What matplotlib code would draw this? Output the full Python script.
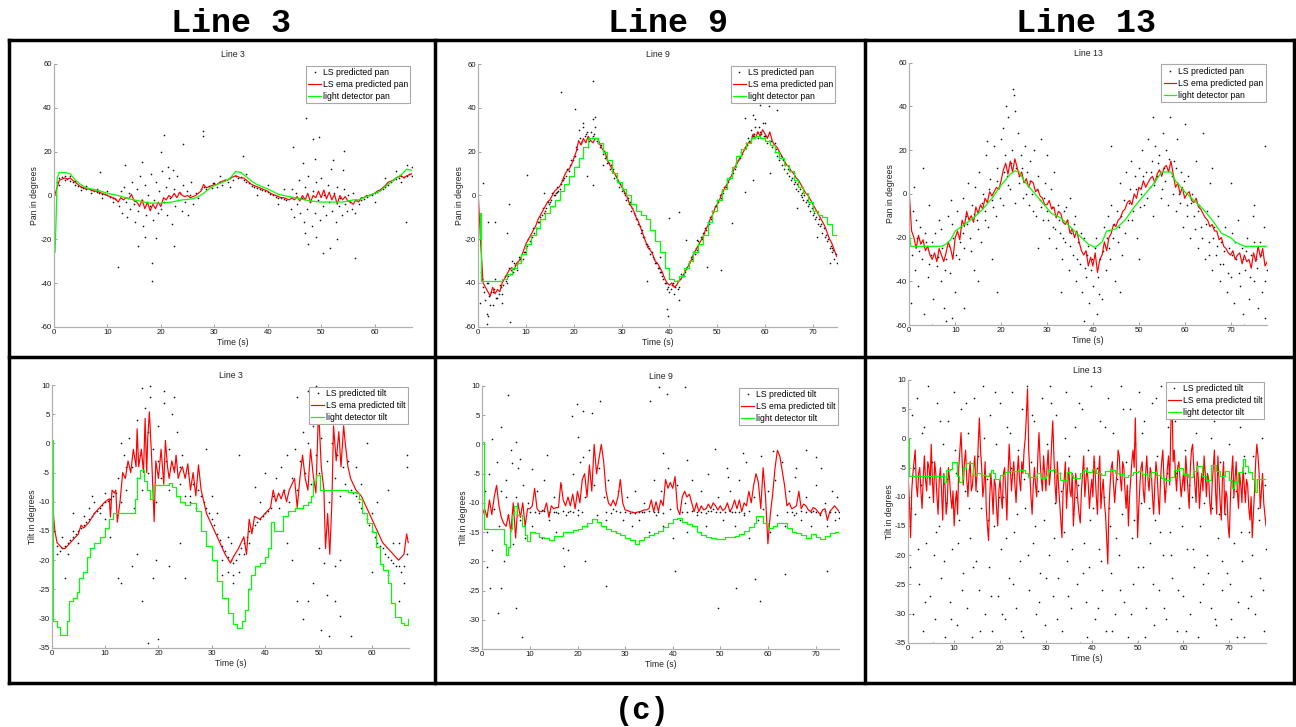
import numpy as np
import matplotlib
matplotlib.use('Agg')
import matplotlib.pyplot as plt
from matplotlib.lines import Line2D

plt.rcParams['font.family'] = ['Liberation Sans', 'DejaVu Sans']
plt.rcParams['axes.unicode_minus'] = False

# ---------------- Line 3 : pan ----------------
# red ema line, one sample every 0.5 s from t = 0
p1_red = [-1, 3, 7, 7.5, 8, 7.5, 8, 7, 6, 5, 4, 3.5, 3, 3, 2.5, 2, 2, 1.5, 1, 0.5,
          0, -0.5, -1, -1.5, -3, -1, -2, -1, -1.5, 0.5, -2.5, -3, -5, -2, -6, -3, -7, -4, -6, -3,
          -5, -1, -2, 0, -1, 1, -1, 1.5, 0, -0.5, 0, -1, -0.5, 0, 1, 2, 5, 3.5, 4, 4.5,
          5, 5, 6, 6.5, 7, 7, 8, 8.5, 9, 8.5, 8, 8, 7, 6, 5, 4.5, 4, 3.5, 3, 2.5,
          2, 1, 0.5, 0, -0.5, -1, -1, -1.5, -2, -1, -2, -0.5, -2.5, 0, -2, 1, -3, 0, -1, 2,
          -1, 2.5, -1.5, 1.5, -2, 0.5, -4, 0, -2, -0.5, -2.5, -3, -4, -2, -3, -1, -1, 0, 0, 0.5,
          1, 2, 2.5, 3.5, 4.5, 6, 6.5, 7, 8, 8.5, 9, 8, 9, 9.5, 10]
p1_grn = [(0, -20), (0.2, -26), (0.4, -10), (0.6, 8), (1, 10.5), (2, 10.5), (3, 10), (4, 7), (5, 5), (6, 3.5),
          (8, 2.5), (10, 1), (12, 0), (14, -1.5), (16, -2.5), (18, -3.5), (20, -3.5), (22, -3), (24, -2), (26, -1.5),
          (27, -0.5), (28, 1), (29, 3), (30, 4.5), (31, 5.5), (32, 6.5), (33, 8), (34, 11), (35, 10.5), (36, 8.5),
          (37, 6.5), (38, 5), (40, 3), (42, 0.5), (44, -0.5), (46, -1.5), (48, -2.5), (50, -3), (52, -3), (54, -3),
          (55, -2.5), (56, -2), (57, -2), (58, -1), (59, 0), (60, 1), (61, 2), (62, 4), (63, 6), (64, 8),
          (65, 9.5), (66, 12), (67, 11.5)]
p1_pts = [(0.5, 6), (1, 8), (1.5, 8.5), (2, 7), (2.5, 7.5), (3, 6.5), (3.5, 6), (4, 5), (4.5, 4.5), (5, 4),
          (5.5, 3.5), (6, 3), (7, 2.5), (7.5, 2), (8, 1.5), (8.5, 1), (9, 0.5), (9.5, 0.5), (10, 0), (10.5, -0.5),
          (11, -1), (11.5, -1.5), (1, 5), (2, 9), (3, 9), (4, 6.5), (5, 2.5), (6, 4.5), (7, 1), (8, 3),
          (9, -1), (10, 2), (11, -3),
          (12.2, -5), (12.5, 2), (12.8, -8), (13.1, 4), (13.4, -3), (13.7, -10), (14.0, 1), (14.3, -6), (14.6, 6), (14.9, -4),
          (15.2, -12), (15.5, 3), (15.8, -7), (16.1, 9), (16.4, -2), (16.7, -14), (17.0, 5), (17.3, -9), (17.6, 0), (17.9, -5),
          (18.2, 10), (18.5, -11), (18.8, -2), (19.1, 6), (19.4, -8), (19.7, 2), (20.0, -6), (20.3, 11), (20.6, -3), (20.9, 4),
          (21.2, -9), (21.5, 8), (21.8, -1), (22.1, -13), (22.4, 3), (22.7, -5), (23.0, 9), (23.3, -2), (23.6, 1), (23.9, -7),
          (24.2, 5), (24.5, -3), (24.8, 2), (25.1, -9), (25.4, 0), (25.7, 6), (26.0, -4), (26.5, 1), (27.0, -1), (27.5, 3),
          (12.0, -32.8), (18.3, -39.2), (18.3, -31), (20.6, 27.6), (27.8, 29.5), (27.9, 27.2), (24.2, 23.4), (20.1, 20),
          (15.8, -23.2), (22.4, -23), (17.1, -19), (19.0, -19.2), (8.6, 10.5), (13.3, 14), (16.5, 15.2), (21.4, 13.2),
          (22.3, 11.7), (29.8, 5.6), (35.4, 17.8),
          (28, 4), (28.5, 3), (29, 4.5), (29.5, 3.5), (30, 5.5), (30.5, 4), (31, 6), (31.5, 5), (32, 7), (32.5, 6),
          (33, 8), (33.5, 7), (34, 9), (34.5, 8), (35, 8.5), (35.5, 7), (36, 6), (36.5, 5.5), (37, 4.5), (37.5, 4),
          (38, 3.5), (38.5, 3), (39, 2.5), (39.5, 2), (40, 1.5), (40.5, 0.5), (41, 0), (41.5, -0.5), (42, -1), (42.5, -1),
          (43, -1.5), (43.5, -2), (31, 9), (33, 4), (36, 10), (38, 0), (40, 5), (42, -4), (43, 3),
          (44.3, -6), (44.6, 3), (44.9, -10), (45.2, 1), (45.5, -4), (45.8, 7), (46.1, -8), (46.4, -1), (46.7, -12), (47.0, 4),
          (47.3, -6), (47.6, 9), (47.9, -3), (48.2, -14), (48.5, 2), (48.8, -8), (49.1, 6), (49.4, -2), (49.7, -11), (50.0, 8),
          (50.3, -5), (50.6, 0), (50.9, -9), (51.2, 5), (51.5, -3), (51.8, 12), (52.1, -7), (52.4, 1), (52.7, -12), (53.0, 4),
          (53.3, -5), (53.6, -1), (53.9, -9), (54.2, 3), (54.5, -4), (54.8, -7), (55.1, 0), (55.4, -3), (55.7, -6), (56, 1),
          (56.5, -2), (57, -4), (47.2, 35.2), (49.6, 26.6), (48.8, 16.6), (56.3, -28.6), (50.3, -26.3), (51.6, -24),
          (54.3, 20.5), (48.5, 25.7), (52.2, 16.2), (44.7, 22.3), (46.6, 14.7), (54.1, 11.7), (46.9, -17.2), (49.1, -19),
          (56.3, -8), (65.9, -12.3), (47.5, -22), (53, -20),
          (57.5, -2), (58, -1.5), (58.5, -0.5), (59, 0), (59.5, 0), (60, 1), (60.5, 1.5), (61, 2.5), (61.5, 3), (62, 4),
          (62.5, 5), (63, 6), (63.5, 7), (64, 7.5), (64.5, 8), (65, 9), (65.5, 8.5), (66, 9), (66.5, 10), (67, 9),
          (60, -3), (62, 8), (64, 11), (65, 6), (66, 14), (67, 13)]

# ---------------- Line 9 : pan ----------------
p2_red = [0, -22, -40, -42, -44, -46, -42, -45, -43, -44, -40, -38, -36, -34, -33, -34, -31, -30, -28, -25,
          -22, -20, -18, -16, -14, -11, -9, -7, -5, -3, -2, 0, 2, 3, 4, 6, 9, 11, 12, 14,
          17, 20, 25, 23, 26, 24, 27, 25, 24, 26, 26, 23, 21, 20, 16, 14, 12, 10, 8, 6,
          4, 2, 0, -3, -5, -7, -10, -12, -15, -18, -21, -24, -25, -27, -30, -31, -33, -35, -38, -40,
          -41, -40, -42, -41, -39, -38, -36, -34, -32, -30, -27, -25, -23, -21, -19, -16, -14, -11, -9, -6,
          -4, -2, 1, 3, 5, 7, 9, 12, 14, 16, 18, 20, 22, 24, 24, 28, 26, 29, 27, 30,
          28, 26, 29, 25, 23, 22, 20, 18, 16, 14, 13, 11, 10, 8, 7, 5, 3, 1, 0, -2,
          -4, -6, -8, -10, -12, -14, -17, -20, -22, -25, -28]
p2_grn = [(0, -20), (0.3, -8), (0.5, -39), (1, -39), (2, -39), (3, -39), (4, -39), (5, -38), (6, -36), (7, -33),
          (8, -31), (9, -27), (10, -22), (11, -18), (12, -15), (13, -11), (14, -8), (15, -5), (16, -2), (17, 2),
          (18, 5), (19, 9), (20, 13), (21, 17), (22, 22), (23, 26), (24, 26), (25, 24), (26, 20), (27, 16),
          (28, 10), (29, 6), (30, 3), (31, 0), (32, -4), (33, -7), (34, -9), (35, -11), (36, -16), (37, -21),
          (38, -26), (39, -33), (40, -38), (41, -39), (42, -37), (43, -33), (44, -30), (45, -26), (46, -22), (47, -18),
          (48, -12), (49, -7), (50, -2), (51, 3), (52, 8), (53, 13), (54, 18), (55, 21), (56, 24), (57, 26),
          (58, 27), (59, 26), (60, 25), (61, 23), (62, 20), (63, 17), (64, 14), (65, 11), (66, 7), (67, 4),
          (68, 1), (69, -3), (70, -7), (71, -9), (72, -10), (73, -13), (74, -18), (75, -22)]
p2_pts = [(0.3, -20), (0.5, -35), (1, -42), (1.5, -48), (2, -40), (2.5, -50), (3, -44), (3.5, -38), (4, -47), (4.5, -41),
          (5, -45), (5.5, -37), (6, -40), (6.5, -33), (7, -36), (7.5, -31), (8, -34), (8.5, -28), (9, -30), (9.5, -26),
          (10, -24), (10.5, -20), (11, -19), (11.5, -15), (12, -15), (12.5, -12), (13, -10), (13.5, -6), (14, -7), (14.5, -3),
          (15, -3), (15.5, 1), (16, 0), (16.5, 4), (17, 3), (17.5, 7), (18, 8), (18.5, 12), (19, 11), (19.5, 16),
          (20, 18), (20.5, 22), (21, 30), (21.5, 24), (22, 31), (22.5, 28), (23, 22), (23.5, 29), (24, 27), (24.5, 31),
          (25, 24), (25.5, 22), (26, 19), (26.5, 17), (27, 15), (27.5, 12), (28, 11), (28.5, 8), (29, 7), (29.5, 4),
          (30, 2), (30.5, 1), (31, -2), (31.5, -4), (32, -7), (32.5, -8), (33, -11), (33.5, -13), (34, -17), (34.5, -19),
          (35, -22), (35.5, -23), (36, -27), (36.5, -28), (37, -31), (37.5, -33), (38, -35), (38.5, -37), (39, -40), (39.5, -43),
          (40, -44), (40.5, -41), (41, -45), (41.5, -39), (42, -42), (42.5, -36), (43, -37), (43.5, -33), (44, -31), (44.5, -28),
          (45, -26), (45.5, -24), (46, -21), (46.5, -19), (47, -17), (47.5, -15), (48, -12), (48.5, -10), (49, -7), (49.5, -5),
          (50, -2), (50.5, 0), (51, 2), (51.5, 4), (52, 7), (52.5, 8), (53, 11), (53.5, 13), (54, 15), (54.5, 18),
          (55, 20), (55.5, 21), (56, 24), (56.5, 26), (57, 30), (57.5, 27), (58, 31), (58.5, 26), (59, 29), (59.5, 33),
          (60, 27), (60.5, 24), (61, 25), (61.5, 22), (62, 20), (62.5, 18), (63, 16), (63.5, 14), (64, 12), (64.5, 10),
          (65, 9), (65.5, 7), (66, 5), (66.5, 3), (67, 2), (67.5, 0), (68, -2), (68.5, -3), (69, -5), (69.5, -7),
          (70, -9), (70.5, -11), (71, -13), (71.5, -14), (72, -17), (72.5, -19), (73, -21), (73.5, -24), (74, -26), (74.5, -29),
          (75, -31), (2, -55), (3, -50), (5, -49), (7, -30), (22, 33), (24, 35), (26, 14), (38, -28), (42, -48),
          (58, 35), (60, 33), (62, 24), (66, 10), (70, -5), (74, -24),
          (24.1, 52.2), (17.3, 47), (1.0, 5.8), (2.1, -12), (3.4, -12), (6.4, -4), (6.1, -17), (10.1, 9.2), (6.6, -36),
          (6.6, -58), (1.8, -58.8), (0.3, -49.4), (1.8, -54), (39.5, -52), (39.8, -55), (40, -10.5), (41.9, -7.8),
          (43.5, -20.4), (53, -12.5), (55.9, 1.4), (57.4, 7), (59, 41.3), (60.8, 40.8), (62.5, 39), (57.4, 36.7),
          (55.8, 35.2), (20.2, 39.4), (24.5, 36), (24.1, 4.7), (22.7, 9), (16.4, 1.7), (13.8, 1.2), (61.1, 10),
          (66.7, -5.9), (70.9, -18.9), (67.8, -0.6), (35.4, -39), (50.7, -34), (45.8, -20.4), (47.8, -32.6), (73.7, -31)]
# extra predicted-pan dots hugging the track, at t = k + 0.25 and t = k + 0.75
p2_trk_a = [-10, -44, -46, -43, -45, -41, -37, -35, -31, -29, -23, -19, -15, -9, -6, -2, 1, 5, 9, 14,
            18, 26, 27, 25, 28, 24, 20, 15, 12, 6, 3, -1, -6, -11, -16, -22, -26, -31, -35, -40,
            -43, -42, -38, -35, -30, -27, -22, -17, -13, -7, -3, 1, 6, 10, 16, 19, 23, 27, 29, 28,
            27, 25, 21, 18, 14, 11, 6, 3, 0, -4, -8, -11, -15, -20, -25]
p2_trk_b = [-38, -40, -44, -47, -42, -39, -34, -32, -29, -26, -21, -17, -12, -8, -4, 0, 2, 7, 12, 16,
            21, 25, 29, 26, 25, 23, 18, 14, 9, 5, 0, -3, -9, -14, -19, -24, -29, -33, -38, -42,
            -40, -43, -37, -33, -29, -25, -20, -16, -11, -5, -1, 4, 8, 12, 17, 22, 25, 28, 31, 27,
            25, 23, 20, 16, 12, 8, 5, 1, -2, -6, -10, -13, -18, -23, -27]

# ---------------- Line 13 : pan ----------------
p3_red = [0, -17, -20, -25, -19, -23, -21, -26, -24, -28, -30, -27, -31, -25, -28, -31, -27, -22, -25, -30,
          -20, -17, -21, -12, -15, -8, -12, -10, -13, -6, -9, -5, -7, -2, -4, 1, -1, 1, 3, 2,
          6, 11, 14, 9, 15, 10, 16, 12, 8, 10, 5, 7, 3, 6, 5, 1, 2, -1, -2, -5,
          -5, -3, -7, -6, -11, -8, -9, -13, -14, -12, -18, -16, -20, -17, -22, -26, -28, -26, -33, -29,
          -33, -27, -36, -30, -28, -22, -26, -20, -18, -14, -15, -12, -11, -8, -7, -4, -3, -5, 0, -2,
          3, 2, 6, 3, 5, 7, 8, 5, 9, 11, 8, 12, 13, 10, 15, 9, 3, 5, 0, 3,
          -2, 0, 1, -3, -4, -2, -6, -7, -9, -11, -12, -15, -14, -17, -17, -21, -20, -24, -25, -27,
          -28, -26, -30, -28, -27, -32, -28, -31, -30, -34, -27, -31, -24, -29, -25, -33, -31]
p3_grn = [(0, -17), (0.3, -24), (1, -24), (3, -24), (5, -24), (7, -24), (8, -23), (9, -21), (10, -17), (12, -14),
          (14, -11), (16, -7), (18, -2), (20, 4), (22, 9), (23, 10.5), (24, 10), (25, 6), (27, 1), (29, -4),
          (31, -9), (33, -11), (35, -15), (37, -19), (39, -23), (40.5, -24.5), (42, -22), (43, -17), (45, -16), (47, -12),
          (49, -6), (51, -1), (53, 4), (55, 10), (57, 10), (58, 6), (60, 1), (62, -3), (64, -7), (66, -12),
          (68, -18), (70, -20), (71, -22), (73, -24), (75, -24), (78, -24)]
p3_pts = [(0.3, -50), (0.8, -8), (1.2, -35), (1.6, -20), (2, -42), (2.4, -15), (2.8, -30), (3.2, -55), (3.6, -22), (4, -38),
          (4.4, -5), (4.8, -28), (5.2, -48), (5.6, -18), (6, -33), (6.4, -12), (6.8, -40), (7.2, -25), (7.6, -52), (8, -30),
          (8.4, -10), (8.8, -36), (9.2, -57), (9.6, -20), (10, -45), (1, 3), (3, 12), (5, -60), (8, -58), (9, -3),
          (10.4, -8), (10.8, -30), (11.2, -15), (11.6, -2), (12, -25), (12.4, -10), (12.8, 5), (13.2, -20), (13.6, -5), (14, -35),
          (14.4, 3), (14.8, -12), (15.2, 10), (15.6, -22), (16, 0), (16.4, -8), (16.8, 18), (17.2, -15), (17.6, 7), (18, -3),
          (18.4, 22), (18.8, -10), (19.2, 12), (19.6, 3), (20, 25), (20.4, -5), (20.8, 18), (21.2, 8), (21.6, 35), (22, 2),
          (22.4, 20), (22.8, 45), (23.2, 12), (23.6, 28), (24, 5), (24.4, 18), (24.8, -2), (25.2, 22), (21, 40), (20.5, 30),
          (22.5, 48), (23, 38), (12, -52), (15, -40), (18, -30), (19, -45), (17, 24),
          (25.6, 10), (26, -5), (26.4, 15), (26.8, 0), (27.2, 20), (27.6, -10), (28, 8), (28.4, -3), (28.8, 25), (29.2, -12),
          (29.6, 5), (30, -8), (30.4, -20), (30.8, 2), (31.2, -15), (31.6, 10), (32, -25), (32.4, -5), (32.8, -18), (33.2, -30),
          (33.6, -8), (34, -22), (34.4, -12), (34.8, -35), (35.2, -18), (35.6, -28), (36, -10), (36.4, -40), (36.8, -22), (37.2, -32),
          (37.6, -45), (38, -20), (38.4, -38), (38.8, -28), (39.2, -50), (39.6, -35), (40, -42), (40.4, -25), (40.8, -55), (41.2, -38),
          (41.6, -30), (42, -48), (30, 18), (35, -2), (38, -58), (33, -45), (28, -25),
          (42.4, -15), (42.8, -35), (43.2, -10), (43.6, -25), (44, -5), (44.4, -20), (44.8, -40), (45.2, -8), (45.6, -15), (46, 5),
          (46.4, -28), (46.8, -3), (47.2, 10), (47.6, -12), (48, 2), (48.4, 15), (48.8, -8), (49.2, 8), (49.6, -20), (50, 12),
          (50.4, 0), (50.8, 20), (51.2, -5), (51.6, 10), (52, 25), (52.4, 3), (52.8, 15), (53.2, -10), (53.6, 22), (54, 8),
          (54.4, 18), (54.8, -2), (55.2, 28), (55.6, 12), (56, 20), (56.4, -5), (56.8, 35), (57.2, 8), (57.6, 15), (58, -8),
          (58.4, 25), (58.8, 0), (59.2, 10), (59.6, -15), (60, 32), (46, -45), (50, -30), (53, 35), (44, 22),
          (60.4, -5), (60.8, 8), (61.2, -20), (61.6, 0), (62, -10), (62.4, 15), (62.8, -25), (63.2, -5), (63.6, -15), (64, 28),
          (64.4, -30), (64.8, -8), (65.2, -22), (65.6, 5), (66, -35), (66.4, -15), (66.8, -28), (67.2, -10), (67.6, -40), (68, -22),
          (68.4, -32), (68.8, -15), (69.2, -45), (69.6, -25), (70, -38), (70.4, -18), (70.8, -50), (71.2, -30), (71.6, -12), (72, -42),
          (72.4, -25), (72.8, -55), (73.2, -35), (73.6, -20), (74, -48), (74.4, -28), (74.8, -10), (75.2, -40), (75.6, -30), (76, -52),
          (76.4, -22), (76.8, -45), (77.2, -15), (77.6, -57), (78, -35), (77.5, 22), (75, -5), (70, 5), (66, 12), (73, -60),
          (0.5, -28), (1.4, -12), (2.2, -26), (3.4, -18), (4.2, -32), (5, -22), (6.2, -29), (7, -16), (7.8, -35), (8.6, -24),
          (9.4, -14), (10.2, -28), (11, -22), (11.8, -18), (12.6, -14), (13.4, -26), (14.2, -9), (15, -16), (15.8, -4), (16.6, -12),
          (17.4, 2), (18.2, -6), (19, 6), (19.8, -2), (20.6, 10), (21.4, 4), (22.2, 14), (23, -4), (23.8, 8), (24.6, 12),
          (25.4, 0), (26.2, 6), (27, -8), (27.8, 2), (28.6, -6), (29.4, -2), (30.2, -12), (31, -6), (31.8, -16), (32.6, -12),
          (33.4, -20), (34.2, -6), (35, -24), (35.8, -14), (36.6, -30), (37.4, -18), (38.2, -34), (39, -24), (39.8, -30), (40.6, -20),
          (41.4, -46), (42.2, -26), (43, -20), (43.8, -30), (44.6, -14), (45.4, -22), (46.2, -10), (47, -18), (47.8, -4), (48.6, -12),
          (49.4, 2), (50.2, -6), (51, 8), (51.8, -2), (52.6, 10), (53.4, 4), (54.2, 14), (55, 2), (55.8, 6), (56.6, 16),
          (57.4, 0), (58.2, 12), (59, -4), (59.8, 6), (60.6, -10), (61.4, -4), (62.2, -16), (63, -8), (63.8, -20), (64.6, -14),
          (65.4, -28), (66.2, -20), (67, -24), (67.8, -32), (68.6, -26), (69.4, -36), (70.2, -28), (71, -22), (71.8, -36), (72.6, -30),
          (73.4, -26), (74.2, -38), (75, -22), (75.8, -34), (76.6, -28), (77.4, -40)]

# ---------------- Line 3 : tilt ----------------
p4_red = [(0.3, -12), (0.6, -15), (1, -17), (1.5, -17.5), (2, -18), (2.5, -18), (3, -17.5), (4, -16.5), (5, -15.5), (5.5, -14),
          (6, -14.5), (7, -13.5), (8, -12), (8.5, -11.5), (9, -11), (10, -10), (10.8, -9.5), (11, -12.6), (11.3, -8), (11.7, -8.5),
          (12, -8), (12.3, -13.5), (12.8, -10), (13.3, -5), (13.8, -6), (14.3, -3), (14.8, -5), (15.3, -1), (15.8, -4), (16, 2.5),
          (16.3, -4), (16.8, -1), (17.2, -5), (17.5, 4.3), (17.8, -5), (18, 1), (18.3, 5.4), (18.7, -2), (19.2, -13.4), (19.5, -3),
          (20, -6), (20.5, -1), (21, -7), (21.3, 0.5), (21.7, -4), (22, -6), (22.5, -3), (23, -5), (23.3, -2), (23.7, -6),
          (24, -5), (24.5, -4), (25, -6), (25.5, -3.5), (26, -8), (26.5, -5), (27, -9), (27.5, -3.7), (28, -8), (28.5, -10),
          (29, -12), (29.5, -13), (30.5, -15), (31.5, -17), (32.5, -19), (33.5, -20.5), (34, -19.5), (35, -18), (36, -16), (36.5, -19),
          (37, -13), (37.5, -15.5), (38, -12.5), (39, -13), (40, -12), (41, -11), (41.5, -8), (42, -10), (42.5, -8.5), (43, -9.5),
          (43.5, -8), (44, -10), (44.5, -8), (45, -7), (45.5, -6), (46, -11), (46.5, -6), (47, -2), (47.5, -6), (48, -8),
          (48.5, -1), (49, -5.5), (49.5, -8.5), (50, 6), (50.5, -4), (51, -8), (51.3, -18), (51.7, -12), (52.1, -19), (52.5, -10),
          (52.8, 3), (53.3, -3), (53.8, 2), (54.2, -4), (54.7, 3), (55, 0), (55.5, -4), (56, -6), (57, -8), (57.5, -8.5),
          (58, -9), (59, -11), (60, -13), (61, -15), (62, -17), (63, -18), (64, -19), (65, -20), (65.5, -19.5), (66, -19),
          (66.5, -15.5), (66.8, -17)]
p4_grn = [(0, 0.5), (0.3, -30.5), (1, -31.5), (1.5, -32.8), (2.8, -30.5), (3.3, -27), (4, -26.5), (4.7, -25.5), (5.2, -23), (5.8, -22),
          (6.6, -19.5), (7.2, -18), (8, -17), (9, -16), (10, -14.5), (10.8, -13), (11.5, -12), (15.6, -9.5), (16, -6), (16.5, -4.5),
          (17.2, -6.5), (17.8, -8), (18.4, -9.5), (19, -7.2), (22, -6.8), (22.6, -7.5), (23.2, -9), (24, -10), (25, -10.5), (26, -10.2),
          (27, -11.5), (28, -15), (29, -17.5), (30, -20), (31, -23.5), (32, -26.5), (33, -29), (34, -31), (34.8, -31.7), (35.6, -30.5),
          (36.2, -28.5), (36.8, -25), (37.4, -22.5), (38, -21), (39, -20.5), (40, -19.5), (40.5, -18), (41, -13.5), (41.6, -15), (42.2, -15),
          (42.6, -15), (43.4, -12.5), (44.2, -11.5), (45.6, -11), (47, -10.5), (48, -10), (48.5, -9), (49, -6.5), (49.6, -5.5), (50.2, -8),
          (55, -8), (55.6, -8.3), (57, -8.5), (57.6, -9.5), (58.2, -12), (59, -13.7), (60, -15.1), (60.8, -17.7), (61.5, -20.6), (62.1, -21.7),
          (63, -24), (63.6, -27.4), (64.3, -29.7), (65.5, -30.8), (66, -31.1), (66.7, -30)]
p4_pts = [(0.5, -15), (1, -17.5), (1.5, -18.5), (2, -18), (2.5, -17.5), (3, -17), (3.5, -16.5), (4, -16), (4.5, -15.5), (5, -15),
          (5.5, -14.5), (6, -14), (6.5, -13.5), (7, -13), (7.5, -12.5), (8, -12), (8.5, -11.5), (9, -11), (9.5, -10.5), (10, -10),
          (10.5, -9.8), (11, -9.5), (11.5, -9), (12, -8.5), (1, -19), (2, -16), (3, -19), (4, -15), (5, -17), (6, -12.5),
          (7, -11), (8, -10), (9, -12), (10, -8.5), (11, -11), (2.5, -23), (4, -12), (7.5, -9),
          (12.5, -6), (13, -10), (13.5, -2), (14, -8), (14.5, 1), (15, -4), (15.5, -11), (16, 4), (16.5, -2), (17, -8),
          (17.5, 6), (18, -5), (18.5, 8), (19, -1), (19.5, -10), (20, 3), (20.5, -6), (21, 7), (21.5, -3), (22, -8),
          (22.5, 5), (23, -4), (23.5, 2), (24, -7), (24.5, -2), (25, -9), (25.5, -5), (26, -10), (26.5, -7), (27, -11),
          (27.5, -8), (13, 0), (14, -4), (16, -6), (18, 2), (20, -3), (22, -1), (24, -4), (26, -9), (17, 9.5),
          (18.5, 9.8), (21, 9), (23, 8), (20, -33.5), (18, -34.2), (19, -23), (17, -27), (16, -19), (19.5, -20), (12.5, -23),
          (13, -24), (15, -21), (22, -21), (24, -17), (25, -23), (11, -16), (10, -13),
          (28, -9), (28.5, -10), (29, -11), (29.5, -12), (30, -13), (30.5, -14), (31, -15.5), (31.5, -16.5), (32, -17.5), (32.5, -18.5),
          (33, -19.5), (33.5, -20), (34, -20.5), (34.5, -20), (35, -19), (35.5, -18), (36, -17), (36.5, -16), (37, -15), (37.5, -14.5),
          (38, -14), (38.5, -13.5), (39, -13), (39.5, -12.5), (40, -12), (40.5, -11.5), (41, -11), (31, -12), (32, -20), (33, -22),
          (34, -22.5), (35, -22), (34, -24), (36, -19), (30, -9), (33, -16), (37, -17), (39, -10), (38, -7.5), (29, -1),
          (35, -2), (37, -25), (40, -5), (32, -22.5), (33.5, -17),
          (41.5, -9), (42, -6), (42.5, -11), (43, -4), (43.5, -8), (44, -2), (44.5, -10), (45, -6), (45.5, -1), (46, -8),
          (46.5, -3), (47, 2), (47.5, -5), (48, 0), (48.5, -7), (49, 3), (49.5, -2), (50, -5), (50.5, 1), (51, -8),
          (51.5, -3), (52, -10), (52.5, 0), (53, -6), (53.5, -2), (54, -9), (54.5, -4), (55, -7), (55.5, -3), (56, -8),
          (46, 8), (48, 9), (49.5, 9.8), (50, -18), (51, -20.5), (50.5, -32), (48, -27), (46, -27), (51.5, -26), (53, -27),
          (47, -30), (49, -24), (52, -33), (54, -29.5), (45, -20), (44, -17), (56, -33), (54, -20), (53, -21),
          (56.5, -8.5), (57, -9), (57.5, -10), (58, -11), (58.5, -12), (59, -13), (59.5, -14), (60, -15), (60.5, -16), (61, -17),
          (61.5, -17.5), (62, -18), (62.5, -19), (63, -19.5), (63.5, -20), (64, -20.5), (64.5, -21), (65, -21), (65.5, -22), (66, -21),
          (66.5, -19), (58, -7), (60, -12), (62, -21), (64, -17), (66, -24), (65, -17), (63, -22.5), (57, -4), (59, 0),
          (61, -10), (63, -8), (66.5, -2), (66.5, -4), (65, -27), (60, -22)]

# ---------------- Line 9 : tilt ----------------
p5_red = [-12, -11, -12.5, -9.5, -12, -9, -7, -10.5, -12.5, -13.5, -14, -12, -15, -10, -16, -10, -12.5, -10, -14, -11,
          -11, -10.5, -7.5, -11, -11.5, -11.5, -11.3, -10, -12.5, -10.5, -11, -10.8, -10.8, -6.5, -9.5, -10.5, -9, -10.5, -8.5, -11,
          -8, -10, -6, -5, -9, -3.5, -8, 0, -5, -2.5, 0, -3, -8, -10, -10.5, -9.5, -10.5, -9, -6, -10,
          -11.2, -11.3, -11.5, -11.6, -11.7, -11.6, -11.5, -11.4, -11.2, -11.2, -11, -9.5, -11.5, -9.8, -11.5, -9.5, -10.5, -6, -7.5, -6.5,
          -7.5, -5.5, -11, -12, -9, -8, -9, -8.5, -10, -11.5, -10, -11.5, -10.5, -11.2, -11, -10.2, -11, -10, -10.5, -11.2,
          -10.5, -11.3, -11, -10, -11.5, -10.8, -9.5, -11, -9.5, -11.5, -10, -10.5, -8, -10, -7, -5, -6.5, -11, -4, -9,
          -17, -12, -8.5, -4, -1, -2, -4.5, -7, -10.5, -10, -11, -10.8, -10.5, -8, -11, -10.2, -10.5, -11.2, -11.5, -10.8,
          -11, -11.5, -12, -11.2, -11, -13, -11.5, -11, -10.5, -11, -11.5]
p5_grn = [(0, 0.5), (0.3, -14.5), (4.6, -17), (4.9, -19), (5.4, -17.5), (5.8, -14.5), (6.2, -12), (6.6, -10.5), (7.2, -12), (8.4, -14),
          (8.9, -15.5), (9.4, -16.5), (10, -15), (11, -15.2), (12, -15.8), (13, -16), (14, -16.3), (15, -15.7), (16, -15.6), (17, -15),
          (18, -15), (19, -14.6), (20, -14.5), (21, -14), (22, -13.5), (23, -12.8), (24, -13.2), (25, -14), (26, -14.5), (27, -14.8),
          (28, -15.2), (29, -15.5), (30, -16), (31, -16.3), (32, -17), (33, -16.3), (34, -15.8), (35, -15.5), (36, -15.2), (37, -14.8),
          (38, -14.2), (39, -13.5), (40, -12.8), (41, -12.5), (42, -13.2), (43, -13.6), (44, -14), (45, -15), (46, -15.5), (47, -15.8),
          (48, -16), (49, -16.2), (50, -16.2), (51, -15.8), (52, -15.8), (53, -15.7), (54, -15.3), (55, -14.8), (56, -14.2), (57, -13.5),
          (57.5, -12.2), (58.5, -12.2), (59, -13.5), (60, -14.3), (61, -14), (62, -13.5), (63, -13.5), (64, -14.3), (65, -15), (66, -15.2),
          (67, -15.5), (68, -16), (69, -15.4), (70, -15.8), (71, -16.2), (72, -15.6), (73, -15.2), (74, -14.9), (75, -14.8)]
p5_pts = [(10, -11.6), (11, -11.5), (12, -11.7), (13, -11.4), (14, -11.6), (15, -11.5), (16, -11.7), (17, -11.4), (18, -11.6), (19, -11.5),
          (20, -11.3), (21, -11.6), (26, -11.5), (27, -11.7), (28, -11.4), (29, -11.6), (30, -11.5), (31, -11.7), (32, -11.8), (33, -11.6),
          (34, -11.5), (35, -11.4), (36, -11.6), (37, -11.5), (38, -11.7), (42, -11.5), (43, -11.6), (44, -11.4), (45, -11.6), (46, -11.5),
          (47, -11.7), (48, -11.4), (49, -11.6), (50, -11.5), (51, -11.6), (52, -11.4), (53, -11.6), (54, -11.5), (55, -11.7), (56, -11.4),
          (64, -11.6), (65, -11.5), (66, -11.7), (67, -11.4), (68, -11.6), (69, -11.5), (70, -11.6), (71, -11.7), (72, -11.4), (73, -11.6),
          (74, -11.5), (75, -11.6), (12.5, -11.3), (15.5, -11.6), (18.5, -11.4), (31.5, -11.6), (33.5, -11.5), (47.5, -11.4), (52.5, -11.6), (69.5, -11.4),
          (0.5, -8), (1, -15), (1.5, -5), (2, -18), (2.5, -11), (3, -3), (3.5, -14), (4, -8), (4.5, -20), (5, -6),
          (5.5, -12), (6, -1), (6.5, -17), (7, -9), (7.5, -4), (8, -13), (8.5, -7), (9, -16), (9.5, -10), (1, -21),
          (2, 1), (4, 3), (7, 0.5), (8, -2.5), (5, -9),
          (10.5, -14), (11.5, -8), (12.5, -16), (13, -6), (14, -13), (15, -9), (15.5, -15), (16.5, -7), (17.5, -12), (18, -18),
          (19, -5), (20, -12), (20.5, -3), (21.5, -9), (22, -14), (22.5, -1), (23.5, -7), (24, -12), (24.5, -4), (25.5, -9),
          (26, -13), (26.5, -6), (27.5, -11), (28, -15), (28.5, -8), (29.5, -13), (30.5, -9), (31.5, -14), (32, -8), (33, -13),
          (34, -10), (35, -15), (36, -6), (36.5, -12), (37.5, -8), (38, -14), (39, -4), (39.5, -11), (40, -16), (41, -7),
          (41.5, -13), (42.5, -10), (43, -15), (44, -6), (45, -12), (46, -8), (47, -14), (47.5, -5), (48.5, -11), (49.5, -9),
          (50.5, -13), (51.5, -4), (52, -8), (53, -14), (54, -6), (55, -12), (55.5, -3), (56, -16), (57, -9), (58, -13),
          (58.5, -2), (59, -11), (60, -8), (60.5, -15), (61.5, -6), (62, -12), (63, -3), (63.5, -14), (64.5, -8), (65.5, -12),
          (66, -4), (67, -13), (68, -9), (69, -14), (70, -7), (71, -12), (72, -10), (72.5, -14), (73.5, -8), (74, -13),
          (74.5, -9), (75, -12.5),
          (5.5, 8.5), (19.9, 7), (18.9, 4.8), (21.2, 5.7), (23, 5.4), (24.7, 7.4), (37.2, 9.8), (38.8, 8.7), (35.3, 7.4), (42.5, 9.8),
          (20.2, 1.2), (21.2, -2.2), (26, -24.2), (8.4, -33), (3.2, -28.9), (7, -28), (1.6, -24.6), (3.9, -24.5), (49.5, -28), (53.4, -24.6),
          (58.3, -26.8), (57.2, -23), (40.4, -21.6), (63.5, -22.2), (72.4, -21.6), (17, -17.8), (21.6, -19.9), (17.2, -20.8), (6.2, -3.2), (10.4, -4.2),
          (13.5, -1.8), (48.8, -0.7), (61, -1.1), (68.1, -0.9), (70.2, -2.1), (65.6, -5.6), (71.2, -4.1), (51.6, -5.5), (54.8, -1.5), (38, -1.5),
          (43, -2.6)]

# ---------------- Line 13 : tilt ----------------
# red ema line, one sample every 0.25 s from t = 0
p6_red = [-7, -11, -17, -9, -6, -4, -2, -8, -10, -6, -5, -9, -12, -7, -3, -7, -9, -4, -5, -8,
          -1, -7, -11, -4, -6, -10, -13, -7, -5, -9, -14, -6, -8, -13, -11, -5, -7, -10, -12, -9,
          -15, -11, -9, -13, -5, -2, 1, -4, -8, -4, -2, -7, -10, -6, -4, -9, -8, -5, -3, -9,
          -6, -1, 3.5, -2, -5, -10, -8, -4, -12, -15, -17.5, -10, -6, -9, -13, -7, -8, -12, -15, -9,
          -7, -10, -12, -6, -5, -9, -14, -6, -1, -5, -9, -6, -4, -8, -11, -6, -3, -7, -9, -4,
          -6, -2, 0, 4, 8.5, -2, -6, -10, -13, -8, -5, -8, -10, -3, 1, -4, -7, -9, -3, -6,
          -9, -5, -2, -8, -6, -1, 3, -3, -8, -11, -4, -8, -11, -14, -17, -9, -7, -4, -12, -8,
          -5, -9, -10, -6, -15, -11, -6, -8, -11, -13, -14.5, -9, -6, -3, -10, -7, -5, -8, -12, -9,
          -7, -10, -3, -6, -10, -13, -6, -3, -12, -9, -7, -11, -13, -17, -21.5, -12, -8, -5, -4, -8,
          -11, -8, -6, -2, -3, -7, -9, -4, -5, -9, -12, -8, -15, -10, -7, -4, -2, -5, 3.5, -6,
          -17, -12, -8, -5, -4, -9, -11, -6, -3, -7, -9, -5, -6, -10, -13, -8, -4, -6, -10, -13,
          -7, -4, -2, -7, -11, -8, -5, -3, -8, 2, 7.5, -4, -2, -6, -9, -5, -4, -7, -10, -8,
          -6, -9, -3, -6, -9, -12, -5, -2, -1, -5, -8, -11, -4, -7, -12, -8, -6, -9, -3, -6,
          -10, -6, -7, -11, -13, -8, -5, -2, -9, -13, -3, -7, -11, -14, -7, -4, -13, -9, -10, -15,
          -17, -10, -6, -3, -10, -7, -4, -9, -12, -6, -8, -11, -5, -8, -11, -7, -8, -12, -14, -10,
          -17, -13, -9, -4, -1, -3, -6, -12, -9, -6, -11, -13, -15]
p6_grn = [(0, 0), (0.2, -6.5), (7.7, -7.5), (8.2, -5.5), (9, -5.2), (9.5, -4), (10.3, -4), (10.6, -6.5), (11, -7.5), (11.8, -7),
          (12, -5), (12.5, -4.3), (13.7, -4.3), (14, -6.2), (15, -6), (16, -6.2), (17, -6.5), (17.5, -6), (18, -5.5), (18.5, -6),
          (19, -7), (20, -6.3), (21, -5.8), (22, -5.6), (23, -5.6), (24, -5.5), (25, -5.5), (25.5, -6), (26, -6.6), (27, -6.6),
          (28, -6), (29, -6.8), (30, -6.2), (30.5, -5.5), (31.5, -5.3), (32, -6), (33, -7.2), (34, -7.2), (34.5, -5.8), (35.5, -6.3),
          (36, -6.8), (37, -6.8), (37.5, -6), (38, -5.5), (39, -5.8), (40, -5.3), (41, -5.9), (42, -6.3), (43, -5.6), (44, -5.5),
          (45, -5.9), (46, -6.1), (47, -6.6), (48, -6.2), (49, -5.8), (50, -5.6), (51, -6.1), (52, -6.7), (53, -5.8), (54, -6.2),
          (55, -6.8), (56, -7.1), (57, -6.6), (58, -5.5), (59, -5.1), (60, -6.1), (61, -6.7), (62, -5.6), (63, -4.8), (64, -6.5),
          (65, -7.2), (66, -4.6), (67, -5.6), (68, -6.4), (69, -5.6), (70, -7.2), (70.5, -8.5), (71, -7.4), (72, -5.7), (73, -3.5),
          (73.5, -4.7), (74, -5.8), (75, -6.9), (75.5, -9.1), (76, -6.9), (78, -7)]
p6_pts = [(0.3, -22), (0.7, 4), (1.1, -30), (1.5, -13), (1.9, 7), (2.3, -25), (2.7, -8), (3.1, -33), (3.5, 2), (3.9, -18),
          (4.3, 9), (4.7, -27), (5.1, -4), (5.5, -20), (5.9, -31), (6.3, 6), (6.7, -15), (7.1, -24), (7.5, -1), (7.9, -34),
          (8.3, -11), (8.7, 3), (9.1, -28), (9.5, -19), (9.9, 8), (10.3, -6), (10.7, -32), (11.1, -14), (11.5, 5), (11.9, -23),
          (12.3, -9), (12.7, -29), (13.1, 1), (13.5, -17), (13.9, -34), (14.3, 7), (14.7, -21), (15.1, -3), (15.5, -26), (15.9, -12),
          (16.3, 9), (16.7, -30), (17.1, -7), (17.5, -22), (17.9, 4), (18.3, -33), (18.7, -15), (19.1, -1), (19.5, -27), (19.9, 6),
          (20.3, -19), (20.7, -10), (21.1, -31), (21.5, 2), (21.9, -24), (22.3, -5), (22.7, 8), (23.1, -16), (23.5, -29), (23.9, -2),
          (24.3, -21), (24.7, 5), (25.1, -34), (25.5, -12), (25.9, 9), (26.3, -26), (26.7, -4), (27.1, -18), (27.5, 3), (27.9, -30),
          (28.3, -9), (28.7, -23), (29.1, 7), (29.5, -14), (29.9, -32), (30.3, -1), (30.7, -20), (31.1, 6), (31.5, -27), (31.9, -11),
          (32.3, 4), (32.7, -24), (33.1, -6), (33.5, -33), (33.9, -16), (34.3, 8), (34.7, -21), (35.1, -3), (35.5, -29), (35.9, -13),
          (36.3, 2), (36.7, -25), (37.1, -8), (37.5, -35), (37.9, 5), (38.3, -18), (38.7, -28), (39.1, -2), (39.5, -22), (39.9, 9),
          (40.3, -12), (40.7, -31), (41.1, -5), (41.5, -19), (41.9, 3), (42.3, -26), (42.7, -10), (43.1, -33), (43.5, 7), (43.9, -15),
          (44.3, -23), (44.7, 1), (45.1, -30), (45.5, -7), (45.9, -20), (46.3, 9), (46.7, -13), (47.1, -28), (47.5, -4), (47.9, -34),
          (48.3, 5), (48.7, -17), (49.1, -25), (49.5, -1), (49.9, -35), (50.3, 8), (50.7, -11), (51.1, -22), (51.5, 3), (51.9, -29),
          (52.3, -8), (52.7, -18), (53.1, 6), (53.5, -32), (53.9, -14), (54.3, -3), (54.7, -26), (55.1, 9), (55.5, -20), (55.9, -9),
          (56.3, -31), (56.7, 2), (57.1, -16), (57.5, -24), (57.9, 7), (58.3, -6), (58.7, -33), (59.1, -12), (59.5, 4), (59.9, -27),
          (60.3, -2), (60.7, -19), (61.1, 8), (61.5, -30), (61.9, -10), (62.3, -22), (62.7, 1), (63.1, -34), (63.5, -15), (63.9, 5),
          (64.3, -25), (64.7, -7), (65.1, -20), (65.5, 9), (65.9, -29), (66.3, -12), (66.7, 3), (67.1, -32), (67.5, -17), (67.9, -4),
          (68.3, -26), (68.7, 7), (69.1, -13), (69.5, -23), (69.9, -1), (70.3, -31), (70.7, 5), (71.1, -18), (71.5, -9), (71.9, -28),
          (72.3, 2), (72.7, -21), (73.1, -34), (73.5, -6), (73.9, 8), (74.3, -16), (74.7, -27), (75.1, -3), (75.5, -30), (75.9, 4),
          (76.3, -12), (76.7, -24), (77.1, 0), (77.5, -33), (77.9, -19),
          (0.5, -12), (1.3, -5), (2.1, -19), (2.9, 1), (3.7, -28), (4.5, -10), (5.3, -35), (6.1, -16), (6.9, 3), (7.7, -21),
          (8.5, -7), (9.3, -31), (10.1, -2), (10.9, -18), (11.7, -26), (12.5, 6), (13.3, -12), (14.1, -22), (14.9, -9), (15.7, -33),
          (16.5, 0), (17.3, -14), (18.1, -27), (18.9, 8), (19.7, -10), (20.5, -30), (21.3, -17), (22.1, 1), (22.9, -25), (23.7, -13),
          (24.5, -33), (25.3, -7), (26.1, -20), (26.9, 4), (27.7, -15), (28.5, -28), (29.3, -5), (30.1, -24), (30.9, 9), (31.7, -17),
          (32.5, -31), (33.3, -9), (34.1, 0), (34.9, -27), (35.7, -19), (36.5, -10), (37.3, 6), (38.1, -23), (38.9, -34), (39.7, -14),
          (40.5, -4), (41.3, -29), (42.1, -21), (42.9, 2), (43.7, -12), (44.5, -33), (45.3, -17), (46.1, -26), (46.9, 5), (47.7, -9),
          (48.5, -30), (49.3, -14), (50.1, -22), (50.9, 1), (51.7, -34), (52.5, -12), (53.3, -25), (54.1, 7), (54.9, -16), (55.7, -29),
          (56.5, -6), (57.3, -20), (58.1, 3), (58.9, -26), (59.7, -15), (60.5, -33), (61.3, -8), (62.1, -19), (62.9, 5), (63.7, -28),
          (64.5, -11), (65.3, -23), (66.1, 0), (66.9, -31), (67.7, -13), (68.5, -21), (69.3, 6), (70.1, -25), (70.9, -10), (71.7, -34),
          (72.5, -16), (73.3, -3), (74.1, -29), (74.9, -20), (75.7, 7), (76.5, -14), (77.3, -26), (77.8, -8)]

col_titles = ['Line 3', 'Line 9', 'Line 13']
W, H = 1296, 727
fig = plt.figure(figsize=(W / 100, H / 100), dpi=100)


def px(l, t, r, b):
    return [l / W, 1 - b / H, (r - l) / W, (b - t) / H]


def panel(rect, title, kind, xmax, ylim, yticks, pts, red_t, red_v, grn, steps):
    ax = fig.add_axes(rect)
    pt = np.array(pts)
    g = np.array(grn)
    ax.plot(pt[:, 0], pt[:, 1], '.', color='#111111', ms=2.4, mew=0, label='LS predicted ' + kind)
    ax.plot(red_t, red_v, color='#ff0000', lw=0.85, label='LS ema predicted ' + kind)
    ax.plot(g[:, 0], g[:, 1], color='#00ff00', lw=0.9,
            drawstyle='steps-post' if steps else 'default', label='light detector ' + kind)
    ax.set_xlim(0, xmax)
    ax.set_ylim(*ylim)
    ax.set_yticks(yticks)
    ax.set_xticks(np.arange(0, xmax, 10))
    for s in ['top', 'right']:
        ax.spines[s].set_visible(False)
    for s in ['left', 'bottom']:
        ax.spines[s].set_color('#b0b0b0')
        ax.spines[s].set_linewidth(0.9)
    ax.tick_params(direction='in', length=2.5, width=0.6, color='#909090',
                   labelcolor='#1a1a1a', labelsize=5.6, pad=1.5)
    ax.set_title(title, fontsize=6.3, color='#222222', pad=5)
    ax.set_xlabel('Time (s)', fontsize=6.2, color='#222222', labelpad=1.5)
    ax.set_ylabel(('Pan' if kind == 'pan' else 'Tilt') + ' in degrees', fontsize=6.2,
                  color='#222222', labelpad=1)
    leg = ax.legend(loc='upper right', fontsize=6.2, frameon=True, fancybox=False,
                    edgecolor='#a8a8a8', framealpha=1, borderaxespad=0.2,
                    handlelength=1.5, handletextpad=0.2, labelspacing=0.35,
                    borderpad=0.25, numpoints=1, markerscale=1.0)
    leg.get_frame().set_linewidth(0.8)
    return ax


pan_ticks = np.arange(-60, 61, 20)
tilt_ticks = np.arange(-35, 11, 5)

pts2 = np.vstack([np.array(p2_pts),
                  np.column_stack([np.arange(len(p2_trk_a)) + 0.25, p2_trk_a]),
                  np.column_stack([np.arange(len(p2_trk_b)) + 0.75, p2_trk_b])])

panel(px(54, 64, 412, 327), 'Line 3', 'pan', 67, (-60, 60), pan_ticks,
      p1_pts, np.arange(len(p1_red)) * 0.5, p1_red, p1_grn, False)
panel(px(478.3, 64, 836.7, 326.7), 'Line 9', 'pan', 75, (-60, 60), pan_ticks,
      pts2, np.arange(len(p2_red)) * 0.5, p2_red, p2_grn, True)
panel(px(909.3, 62.7, 1267.3, 325), 'Line 13', 'pan', 78, (-60, 60), pan_ticks,
      p3_pts, np.arange(len(p3_red)) * 0.5, p3_red, p3_grn, False)
r4 = np.array(p4_red)
panel(px(51.7, 385, 409.3, 647.7), 'Line 3', 'tilt', 67, (-35, 10), tilt_ticks,
      p4_pts, r4[:, 0], r4[:, 1], p4_grn, True)
panel(px(482.3, 386, 839.3, 649), 'Line 9', 'tilt', 75, (-35, 10), tilt_ticks,
      p5_pts, np.arange(len(p5_red)) * 0.5, p5_red, p5_grn, True)
panel(px(908.3, 380, 1266, 642.7), 'Line 13', 'tilt', 78, (-35, 10), tilt_ticks,
      p6_pts, np.arange(len(p6_red)) * 0.25, p6_red, p6_grn, True)

# black frame around the six panels
xs = [8.5, 435, 865, 1293.5]
ys = [40, 357, 683]
for x in xs:
    fig.add_artist(Line2D([x / W, x / W], [1 - ys[0] / H, 1 - ys[-1] / H], transform=fig.transFigure,
                          color='black', lw=2.5, solid_capstyle='projecting'))
for y in ys:
    fig.add_artist(Line2D([xs[0] / W, xs[-1] / W], [1 - y / H, 1 - y / H], transform=fig.transFigure,
                          color='black', lw=2.5, solid_capstyle='projecting'))

# column headers and caption
for cx, txt in zip([231, 668, 1086], col_titles):
    fig.text(cx / W, 1 - 31.7 / H, txt, ha='center', va='baseline', fontsize=24,
             fontweight='bold', family='Liberation Mono')
fig.text(642 / W, 1 - 719 / H, '(c)', ha='center', va='baseline', fontsize=22,
         fontweight='bold', family='Liberation Mono')

fig.savefig('out.png', dpi=100)
